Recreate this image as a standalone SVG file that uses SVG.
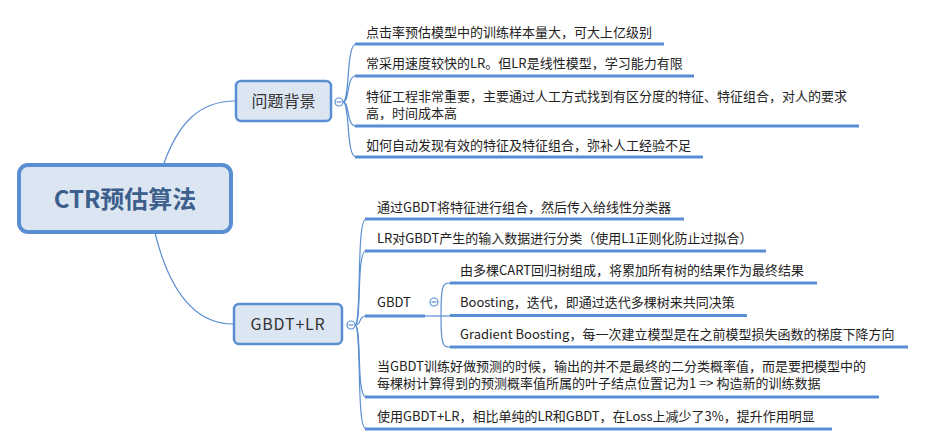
<svg xmlns="http://www.w3.org/2000/svg" width="926" height="446" viewBox="0 0 926 446">
<style>
.bg{fill:#ffffff}
.rootbox{fill:#dce6f2;stroke:#5a8ed3;stroke-width:4}
.mainbox{fill:#dce6f2;stroke:#5a8ed3;stroke-width:2.5}
.conn{fill:none;stroke:#5a8ed3;stroke-width:1.2}
.ul{fill:none;stroke:#5a8ed3;stroke-width:3}
.col{fill:#ffffff;stroke:#5a8ed3;stroke-width:1.2}
.colm{stroke:#5a8ed3;stroke-width:1.2}
text{font-family:"Noto Sans CJK SC","Noto Sans",sans-serif;fill:#222222}
.t{font-size:13px}
.rt{font-size:24px;font-weight:bold;fill:#3d5f8c}
.mt{font-size:16px;fill:#333333}
</style>
<rect class="bg" x="0" y="0" width="926" height="446"/>
<g id="connectors">
  <path class="conn" d="M164,163 C178,125 198,101 235,101"/>
  <path class="conn" d="M155,233 C168,285 192,324 233,324"/>
  <path class="conn" d="M343,102 C350,102 346,44 356,44"/>
  <path class="conn" d="M343,102 C350,102 346,76 356,76"/>
  <path class="conn" d="M343,102 C350,102 346,126 356,126"/>
  <path class="conn" d="M343,102 C350,102 346,157 356,157"/>
  <path class="conn" d="M355,325 C362,325 356,219 366,219"/>
  <path class="conn" d="M355,325 C362,325 356,251 366,251"/>
  <path class="conn" d="M355,325 C362,325 358,316 366,316"/>
  <path class="conn" d="M355,325 C362,325 356,397 366,397"/>
  <path class="conn" d="M355,325 C362,325 356,429 366,429"/>
  <path class="conn" d="M425,316 L441,316"/>
  <path class="conn" d="M441,316 C441,283 443,283 451,283"/>
  <path class="conn" d="M441,316 L451,316"/>
  <path class="conn" d="M441,316 C441,347 443,347 451,347"/>
</g>
<g id="root">
  <rect class="rootbox" x="19" y="165" width="212" height="67" rx="9"/>
  <text class="rt" x="125" y="208" text-anchor="middle">CTR预估算法</text>
</g>
<g id="n-wenti">
  <rect class="mainbox" x="236" y="81" width="95" height="40" rx="5"/>
  <text class="mt" x="283.5" y="107" text-anchor="middle">问题背景</text>
  <circle class="col" cx="339" cy="102" r="4"/>
  <line class="colm" x1="336.5" y1="102" x2="341.5" y2="102"/>
</g>
<g id="n-wenti-1">
  <text class="t" x="366" y="36.5">点击率预估模型中的训练样本量大，可大上亿级别</text>
  <line class="ul" x1="355" y1="44" x2="664" y2="44"/>
</g>
<g id="n-wenti-2">
  <text class="t" x="366" y="68">常采用速度较快的LR。但LR是线性模型，学习能力有限</text>
  <line class="ul" x1="355" y1="76" x2="694" y2="76"/>
</g>
<g id="n-wenti-3">
  <text class="t" x="366" y="100.5">特征工程非常重要，主要通过人工方式找到有区分度的特征、特征组合，对人的要求</text>
  <text class="t" x="366" y="118">高，时间成本高</text>
  <line class="ul" x1="355" y1="126" x2="859" y2="126"/>
</g>
<g id="n-wenti-4">
  <text class="t" x="366" y="150">如何自动发现有效的特征及特征组合，弥补人工经验不足</text>
  <line class="ul" x1="355" y1="157" x2="703" y2="157"/>
</g>
<g id="n-gbdtlr">
  <rect class="mainbox" x="234" y="304" width="108" height="40" rx="5"/>
  <text class="mt" x="288" y="330" text-anchor="middle" letter-spacing="0.8">GBDT+LR</text>
  <circle class="col" cx="351" cy="325" r="4"/>
  <line class="colm" x1="348.5" y1="325" x2="353.5" y2="325"/>
</g>
<g id="n-g1">
  <text class="t" x="377" y="211.5">通过GBDT将特征进行组合，然后传入给线性分类器</text>
  <line class="ul" x1="365" y1="219" x2="684" y2="219"/>
</g>
<g id="n-g2">
  <text class="t" x="377" y="243">LR对GBDT产生的输入数据进行分类（使用L1正则化防止过拟合）</text>
  <line class="ul" x1="365" y1="251" x2="766" y2="251"/>
</g>
<g id="n-gbdt">
  <text class="t" x="377" y="307">GBDT</text>
  <line class="ul" x1="365" y1="316" x2="425" y2="316"/>
  <circle class="col" cx="434" cy="302" r="4"/>
  <line class="colm" x1="431.5" y1="302" x2="436.5" y2="302"/>
</g>
<g id="n-gbdt-1">
  <text class="t" x="460" y="274.5">由多棵CART回归树组成，将累加所有树的结果作为最终结果</text>
  <line class="ul" x1="450" y1="283" x2="817" y2="283"/>
</g>
<g id="n-gbdt-2">
  <text class="t" x="460" y="307">Boosting，迭代，即通过迭代多棵树来共同决策</text>
  <line class="ul" x1="450" y1="315.5" x2="747" y2="315.5"/>
</g>
<g id="n-gbdt-3">
  <text class="t" x="460" y="339">Gradient Boosting，每一次建立模型是在之前模型损失函数的梯度下降方向</text>
  <line class="ul" x1="450" y1="347" x2="908" y2="347"/>
</g>
<g id="n-g4">
  <text class="t" x="377" y="370.5">当GBDT训练好做预测的时候，输出的并不是最终的二分类概率值，而是要把模型中的</text>
  <text class="t" x="377" y="388">每棵树计算得到的预测概率值所属的叶子结点位置记为1 =&gt; 构造新的训练数据</text>
  <line class="ul" x1="365" y1="397" x2="879" y2="397"/>
</g>
<g id="n-g5">
  <text class="t" x="377" y="420.5">使用GBDT+LR，相比单纯的LR和GBDT，在Loss上减少了3%，提升作用明显</text>
  <line class="ul" x1="365" y1="429" x2="832" y2="429"/>
</g>
</svg>
